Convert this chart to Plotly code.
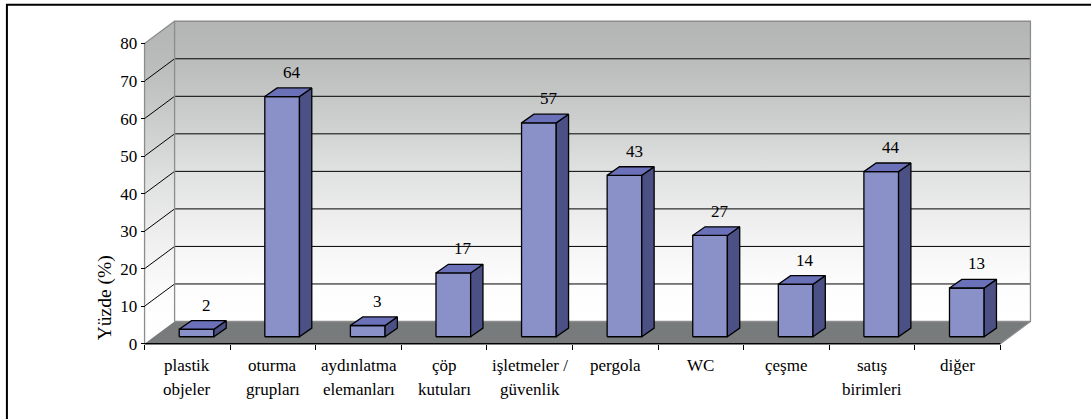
import plotly.graph_objects as go

# ---------------- data ----------------
label_line1 = ["plastik", "oturma", "aydınlatma", "çöp", "işletmeler /", "pergola", "WC", "çeşme", "satış", "diğer"]
label_line2 = ["objeler", "grupları", "elemanları", "kutuları", "güvenlik", "", "", "", "birimleri", ""]
values = [2, 64, 3, 17, 57, 43, 27, 14, 44, 13]
y_ticks = [0, 10, 20, 30, 40, 50, 60, 70, 80]
y_title = "Yüzde (%)"

# ---------------- geometry / style ----------------
W, H = 1091, 419
PX_CAT = 85.5          # pixels per category
PX_UNIT = 3.759        # pixels per value unit
X0_PX, Y0_PX = 145, 344
N = len(values)
YMAX = 80
DX = 30 / PX_CAT       # depth offset (category units)
DY = 22.3 / PX_UNIT    # depth offset (value units)
BAR_L, BAR_R = 0.405, 0.81
BAR_BASE = 1.86
BAR_DX, BAR_DY = 0.144, 2.3

FONT = "Times New Roman, Liberation Serif, serif"
FS = 17
FRONT_C, SIDE_C, TOP_C = "#8a90c8", "#4b5184", "#6a71b8"
FLOOR_C = "#777b7b"
EDGE_C = "#8c8c8c"

xr = [-0.1, N + DX + 0.1]
yr = [-0.6, YMAX + DY + 0.6]
m_l = X0_PX + xr[0] * PX_CAT
plot_w = (xr[1] - xr[0]) * PX_CAT
m_r = W - m_l - plot_w
m_b = H - Y0_PX + yr[0] * PX_UNIT
plot_h = (yr[1] - yr[0]) * PX_UNIT
m_t = H - m_b - plot_h

fig = go.Figure()

def poly(xs, ys, **kw):
    fig.add_trace(go.Scatter(x=xs, y=ys, mode="lines", hoverinfo="skip", showlegend=False, **kw))

wall_scale = [[0, "#ffffff"], [0.125, "#fdfdfd"], [0.25, "#f5f5f5"], [0.375, "#ebebeb"],
              [0.5, "#e0e1e1"], [0.625, "#d2d4d4"], [0.75, "#c5c7c7"], [0.875, "#babcbc"], [1, "#b3b5b5"]]

# back wall
poly([DX, N + DX, N + DX, DX, DX], [DY, DY, YMAX + DY, YMAX + DY, DY], fill="toself",
     fillgradient=dict(type="vertical", colorscale=wall_scale), line=dict(width=0))
# left wall
poly([0, DX, DX, 0, 0], [0, DY, YMAX + DY, YMAX, 0], fill="toself",
     fillgradient=dict(type="vertical", colorscale=wall_scale), line=dict(width=0))
# floor
poly([0, N, N + DX, DX, 0], [0, 0, DY, DY, 0], fill="toself", fillcolor=FLOOR_C, line=dict(width=0))

# gridlines
gx, gy = [], []
for v in y_ticks[1:-1]:
    gx += [0, DX, N + DX, None]
    gy += [v, v + DY, v + DY, None]
poly(gx, gy, line=dict(color="black", width=1))

# gray edges
ex = [0, 0, None, 0, DX, N + DX, N + DX, N, None, DX, DX, None, DX, N + DX]
ey = [0, YMAX, None, YMAX, YMAX + DY, YMAX + DY, DY, 0, None, DY, YMAX + DY, None, DY, DY]
poly(ex, ey, line=dict(color=EDGE_C, width=1.3))
# front axis line
poly([0, N], [0, 0], line=dict(color="black", width=1.5))

# bars
fx, fy, sx, sy, tx, ty = [], [], [], [], [], []
for i, v in enumerate(values):
    l, r = i + BAR_L, i + BAR_R
    b, t = BAR_BASE, BAR_BASE + v
    fx += [l, r, r, l, l, None]; fy += [b, b, t, t, b, None]
    sx += [r, r + BAR_DX, r + BAR_DX, r, r, None]; sy += [b, b + BAR_DY, t + BAR_DY, t, b, None]
    tx += [l, r, r + BAR_DX, l + BAR_DX, l, None]; ty += [t, t, t + BAR_DY, t + BAR_DY, t, None]
poly(fx, fy, fill="toself", fillcolor=FRONT_C, line=dict(color="black", width=1.3))
poly(sx, sy, fill="toself", fillcolor=SIDE_C, line=dict(color="black", width=1.3))
poly(tx, ty, fill="toself", fillcolor=TOP_C, line=dict(color="black", width=1.3))

annotations = []
for i, v in enumerate(values):
    annotations.append(dict(x=i + (BAR_L + BAR_R) / 2 + 0.115, y=BAR_BASE + v, yshift=24,
                            text=str(v), showarrow=False, xanchor="center", yanchor="middle",
                            font=dict(family=FONT, size=FS, color="black")))
for i in range(N):
    annotations.append(dict(x=i + 0.5, y=0, yshift=-21.7, text=label_line1[i], showarrow=False,
                            xanchor="center", yanchor="middle", font=dict(family=FONT, size=FS, color="black")))
    if label_line2[i]:
        annotations.append(dict(x=i + 0.5, y=0, yshift=-46, text=label_line2[i], showarrow=False,
                                xanchor="center", yanchor="middle", font=dict(family=FONT, size=FS, color="black")))
annotations.append(dict(x=0, xshift=-40, y=0, yshift=46, text=y_title, textangle=-90, showarrow=False,
                        xanchor="center", yanchor="middle", font=dict(family=FONT, size=19.5, color="black")))

def px2paper_x(px):
    return (px - m_l) / plot_w

def px2paper_y(py):
    return (H - m_b - py) / plot_h

shapes = [dict(type="rect", xref="paper", yref="paper",
               x0=px2paper_x(7.5), x1=px2paper_x(1110), y0=px2paper_y(440), y1=px2paper_y(4.5),
               line=dict(color="black", width=2), fillcolor="rgba(0,0,0,0)", layer="above")]

fig.update_layout(
    width=W, height=H,
    margin=dict(l=m_l, r=m_r, t=m_t, b=m_b, pad=0),
    paper_bgcolor="white", plot_bgcolor="white",
    showlegend=False,
    annotations=annotations,
    shapes=shapes,
    xaxis=dict(range=xr, anchor="free", position=(0 - yr[0]) / (yr[1] - yr[0]),
               tickmode="array", tickvals=list(range(N + 1)), showticklabels=False,
               ticks="outside", ticklen=5, tickcolor="black", tickwidth=1.2,
               showgrid=False, zeroline=False, showline=False, fixedrange=True),
    yaxis=dict(range=yr, anchor="free", position=(0 - xr[0]) / (xr[1] - xr[0]),
               tickmode="array", tickvals=y_ticks, ticks="outside", ticklen=4,
               tickcolor="black", tickwidth=1.2,
               tickfont=dict(family=FONT, size=FS, color="black"),
               showgrid=False, zeroline=False, showline=False, fixedrange=True),
)

fig.write_html("out.html", config={"displayModeBar": False},
               post_script="document.body.style.margin='0';document.body.style.overflow='hidden';")
